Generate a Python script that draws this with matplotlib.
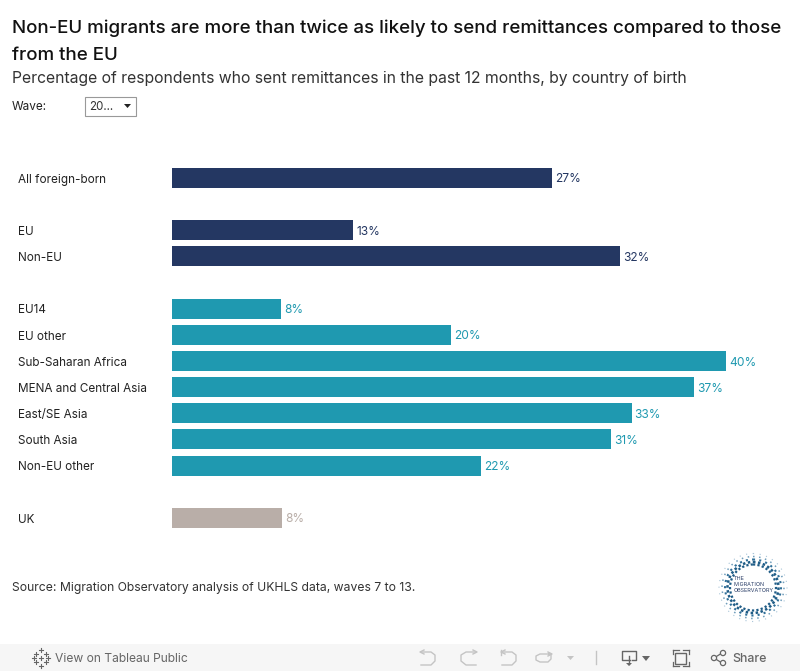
import matplotlib
matplotlib.use("Agg")
import matplotlib.pyplot as plt
from matplotlib.patches import Circle, Polygon, Rectangle

plt.rcParams['font.family'] = ['Inter', 'DejaVu Sans']

categories = ["All foreign-born", "EU", "Non-EU", "EU14", "EU other", "Sub-Saharan Africa",
              "MENA and Central Asia", "East/SE Asia", "South Asia", "Non-EU other", "UK"]
rows = [0, 2, 3, 5, 6, 7, 8, 9, 10, 11, 13]
values = [27.45, 13.1, 32.35, 7.9, 20.15, 40.0, 37.7, 33.2, 31.7, 22.3, 7.95]
labels = ["27%", "13%", "32%", "8%", "20%", "40%", "37%", "33%", "31%", "22%", "8%"]
navy = "#243762"
teal = "#1f99b0"
taupe = "#b9aea8"
colors = [navy] * 3 + [teal] * 7 + [taupe]

W, H = 800, 671
ROW = 26.15
fig = plt.figure(figsize=(W / 100, H / 100), dpi=100)

# page layer in pixel coordinates, y going down
bg = fig.add_axes([0, 0, 1, 1])
bg.set_xlim(0, W)
bg.set_ylim(H, 0)
bg.axis("off")

bg.text(12, 28, "Non-EU migrants are more than twice as likely to send remittances compared to those",
        fontsize=13.5, fontweight="medium", color="#111111", va="center")
bg.text(12, 55, "from the EU", fontsize=13.5, fontweight="medium", color="#111111", va="center")
bg.text(12, 79, "Percentage of respondents who sent remittances in the past 12 months, by country of birth",
        fontsize=11.33, color="#333333", va="center")

bg.text(12, 107, "Wave:", fontsize=8.5, color="#222222", va="center")
bg.add_patch(Rectangle((85, 96.5), 51, 19, fc="white", ec="#999999", lw=0.8))
bg.text(89, 107, "20...", fontsize=8.3, color="#333333", va="center")
bg.add_patch(Polygon([(124, 104), (131, 104), (127.5, 108)], fc="#222222", ec="none"))

bg.text(12, 587.5, "Source: Migration Observatory analysis of UKHLS data, waves 7 to 13.",
        fontsize=8.75, color="#333333", va="center")

# chart layer: 172px is zero, 13.85px per percent
ax = fig.add_axes([172 / W, 1 - 540 / H, 628 / W, 382 / H])
ax.set_xlim(0, 628 / 13.85)
ax.set_ylim((540 - 178) / ROW, (158 - 178) / ROW)
ax.axis("off")
ax.barh(rows, values, height=20 / ROW, color=colors)
for r, v, lab, c, name in zip(rows, values, labels, colors, categories):
    ax.text(v + 0.2, r + 1.5 / ROW, lab, color=c, fontsize=8.6, va="center")
    bg.text(18, 179.7 + r * ROW, name, color="#222222", fontsize=8.45, va="center")

# logo
cx, cy = 753, 587.5
for rad, lw, col, dash in [(23, 1.6, "#1f5c86", (1, 1)), (25.5, 1.8, "#1f5c86", (1, 1)),
                           (28, 1.5, "#2f6f98", (1, 2)), (31, 1.1, "#6f9dbb", (1, 3)),
                           (34, 0.8, "#a9c5d8", (1, 5))]:
    bg.add_patch(Circle((cx, cy), rad, fc="none", ec=col, lw=lw, ls=(0, dash)))
bg.text(734, 578, "THE", fontsize=3.9, color="#2b3f68", va="center")
bg.text(734, 584, "MIGRATION", fontsize=3.9, color="#2b3f68", va="center")
bg.text(734, 590, "OBSERVATORY", fontsize=3.9, color="#2b3f68", va="center")

# toolbar
bg.add_patch(Rectangle((0, 644), W, 27, fc="#f6f6f6", ec="none"))
tool = "#666666"
faint = "#c4c4c4"
for x, y in [(41, 650), (36, 654), (46, 654), (41, 658), (36, 662), (46, 662), (41, 666), (34, 658), (48, 658)]:
    bg.plot([x - 2, x + 2], [y, y], color=tool, lw=0.8)
    bg.plot([x, x], [y - 2, y + 2], color=tool, lw=0.8)
bg.text(55, 658.5, "View on Tableau Public", fontsize=8.7, color=tool, va="center")

bg.plot([421, 431, 435, 435, 431, 421], [652, 652, 655, 661, 665, 665], color=faint, lw=1)
bg.plot([424, 420, 424], [650, 652, 654], color=faint, lw=1)
bg.plot([476, 466, 461, 461, 466, 476], [652, 652, 655, 661, 665, 665], color=faint, lw=1)
bg.plot([473, 477, 473], [650, 652, 654], color=faint, lw=1)
bg.plot([502, 512, 516, 516, 512, 502], [652, 652, 655, 661, 665, 665], color=faint, lw=1)
bg.plot([505, 501, 505], [650, 652, 654], color=faint, lw=1)
bg.plot([501, 501], [650, 655], color=faint, lw=1)
bg.plot([549, 551, 551, 548, 540, 536, 536, 540, 551], [654, 654, 659, 662, 662, 660, 656, 654, 654], color=faint, lw=1)
bg.plot([548, 552, 548], [652, 654, 656], color=faint, lw=1)
bg.add_patch(Polygon([(567, 656), (574, 656), (570.5, 660)], fc=faint, ec="none"))
bg.plot([595.5, 595.5], [651, 664], color=faint, lw=1)

bg.plot([630, 622, 622, 636, 636, 632], [660, 660, 651, 651, 660, 660], color=tool, lw=1)
bg.plot([629, 629], [656, 664], color=tool, lw=1)
bg.add_patch(Polygon([(626, 663), (632, 663), (629, 666)], fc=tool, ec="none"))
bg.add_patch(Polygon([(642, 656), (650, 656), (646, 661)], fc=tool, ec="none"))
bg.add_patch(Rectangle((675, 653), 11, 11, fc="none", ec=tool, lw=1))
for x0, x1, y0, y1 in [(673, 679, 650, 650), (683, 689, 650, 650), (673, 679, 666, 666), (683, 689, 666, 666),
                       (673, 673, 650, 654), (689, 689, 650, 654), (673, 673, 662, 666), (689, 689, 662, 666)]:
    bg.plot([x0, x1], [y0, y1], color=tool, lw=0.9)
bg.plot([722, 714, 722], [653, 658, 663], color=tool, lw=0.9)
for x, y in [(723, 653), (714, 658), (723, 663)]:
    bg.add_patch(Circle((x, y), 2.6, fc="#f6f6f6", ec=tool, lw=0.9, zorder=3))
bg.text(732, 658.5, "Share", fontsize=8.9, color=tool, fontweight="medium", va="center")

fig.savefig("out.png", dpi=100)
